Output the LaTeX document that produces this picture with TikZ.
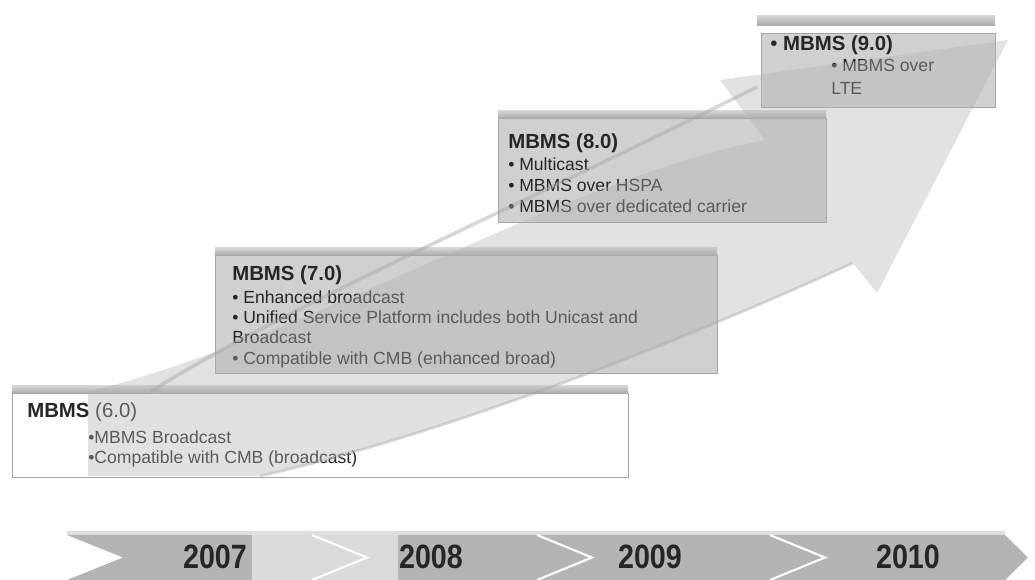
\documentclass[tikz,border=0pt]{standalone}
\usepackage{fontspec}
\setmainfont{Liberation Sans}
\newfontfamily\yearfont[FakeStretch=0.85]{Liberation Sans}
\usetikzlibrary{positioning}
\definecolor{boxgray}{HTML}{D0D0D0}
\definecolor{bargray}{HTML}{B4B4B4}
\definecolor{inkgray}{HTML}{262626}

\begin{document}
\begin{tikzpicture}[x=0.025cm, y=-0.025cm, >=stealth]
  % Define styles
  \tikzstyle{vbox}=[draw=gray!70, fill=boxgray, line width=0.5pt, inner sep=0pt]
  \tikzstyle{vtab}=[top color=gray!30, bottom color=gray!65, draw=none]
  \tikzstyle{vtitle}=[anchor=west, inner sep=0pt, font=\fontsize{14.5}{17}\selectfont\bfseries, text=inkgray]
  \tikzstyle{vlist}=[anchor=north west, inner sep=0pt, align=left, font=\fontsize{12.5}{14.5}\selectfont, text=inkgray]
  \tikzstyle{yearlbl}=[inner sep=0pt, font=\yearfont\bfseries\fontsize{24}{24}\selectfont, text=inkgray]

  \useasboundingbox (0,0) rectangle (1035,580);

  % Boxes
  \fill[vtab] (12,385) rectangle (628,393);
  \node[vbox, fill=white, anchor=north west, minimum width=15.4cm, minimum height=2.1cm] (v6) at (12,393) {};
  \fill[vtab] (215,247) rectangle (717,255);
  \node[vbox, anchor=north west, minimum width=12.55cm, minimum height=2.95cm] (v7) at (215,255) {};
  \fill[vtab] (498,110) rectangle (826,118);
  \node[vbox, anchor=north west, minimum width=8.2cm, minimum height=2.6cm] (v8) at (498,118) {};
  \fill[vtab] (757,15) rectangle (995,25);
  \node[vbox, anchor=north west, minimum width=5.85cm, minimum height=1.85cm] (v9) at (761,33) {};

  % Texts
  \node[vtitle] (v6t) at (27,412) {MBMS {\mdseries (6.0)}};
  \node[vlist] (v6l) at (88,430)
    {•MBMS Broadcast\\•Compatible with CMB (broadcast)};
  \node[vtitle] (v7t) at (232,275) {MBMS (7.0)};
  \node[vlist] (v7l) at (232,290)
    {• Enhanced broadcast\\• Unified Service Platform includes both Unicast and\\Broadcast\\• Compatible with CMB (enhanced broad)};
  \node[vtitle] (v8t) at (508,143) {MBMS (8.0)};
  \node[vlist, font=\fontsize{12.5}{15}\selectfont] (v8l) at (508,157)
    {• Multicast\\• MBMS over HSPA\\• MBMS over dedicated carrier};
  \node[vtitle] (v9t) at (770,45) {{\mdseries •} MBMS (9.0)};
  \node[vlist, font=\fontsize{12.5}{16}\selectfont] (v9l) at (831,59)
    {• MBMS over\\LTE};

  % Arrow
  \fill[gray!60, fill opacity=0.38]
    (88,392) -- (88,476) -- (260,476)
    .. controls (420,440) and (640,360) .. (853,263)
    -- (877,293) -- (1008,40) -- (720,80) -- (765,140)
    .. controls (560,180) and (330,330) .. (88,392) -- cycle;
  \draw[gray!70, line width=2.5pt, opacity=0.45]
    (150,392) .. controls (280,310) and (500,215) .. (757,87);
  \draw[gray!70, line width=2pt, opacity=0.4]
    (260,476) .. controls (420,440) and (640,360) .. (853,263);

  % Timeline
  \fill[gray!25] (67,531) rectangle (1005,535);
  \fill[bargray] (67,535) -- (1005,535) -- (1028,557.5) -- (1005,580)
    -- (67,580) -- (123,557.5) -- cycle;
  \fill[gray!28] (252,535) rectangle (398,580);
  \foreach \t in {367,592,825}
    \draw[white, line width=1.5pt] (\t-55,535) -- (\t,557.5) -- (\t-55,580);
  \node[yearlbl] (y2007) at (215,557) {2007};
  \node[yearlbl] (y2008) at (431,557) {2008};
  \node[yearlbl] (y2009) at (650,557) {2009};
  \node[yearlbl] (y2010) at (908,557) {2010};
\end{tikzpicture}
\end{document}
